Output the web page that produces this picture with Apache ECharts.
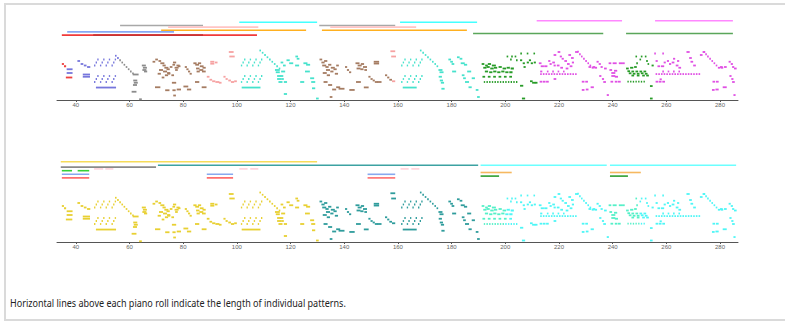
<!DOCTYPE html>
<html>
<head>
<meta charset="utf-8">
<script src="https://cdn.jsdelivr.net/npm/echarts@6/dist/echarts.min.js"></script>
<style>
  html, body { margin: 0; padding: 0; background: #fff; overflow: hidden; width: 785px; height: 321px; }
  #frame { position: absolute; left: 4px; top: 3px; width: 779px; height: 314px; border: 2px solid #dadada; border-right: none; }
  #chart { position: absolute; left: 0; top: 0; width: 785px; height: 321px; }
  #caption { position: absolute; left: 10px; top: 295px; font-family: 'Noto Sans', sans-serif; font-size: 11.5px; color: #222; white-space: nowrap; transform: scaleX(0.785); transform-origin: 0 0; }
</style>
</head>
<body>
<div id="frame"></div>
<div id="chart"></div>
<div id="caption">Horizontal lines above each piano roll indicate the length of individual patterns.</div>
<script>
// x axis (time) tick labels
const xTicks = [40, 60, 80, 100, 120, 140, 160, 180, 200, 220, 240, 260, 280];
const timeRange = [33, 286.7];
const pitchRange = [50, 84];

// notes: [onset, pitch, duration]
const passage1 = [
  [34.8,74,0.8],[35.6,72.5,0.8],[36.6,70.5,2.2],[36.6,68,2.2],[36.3,65,2.4],
  [40.6,76,1],[41.8,74,1],[43,73,1],[44.2,72,1.2],[42.6,67,2.7],[42.6,65.5,2.7],
  [46.8,73,0.5],[47.4,75,0.5],[48,77,0.5],[49,73,0.5],[49.6,75,0.5],[50.2,77,0.5],
  [51.1,73,0.5],[51.7,75,0.5],[52.3,77,0.5],[53.3,73,0.5],[53.9,75,0.5],[54.5,77,0.5],
  [46.8,62,0.5],[47.4,64,0.5],[48,66,0.5],[49,62,0.5],[49.6,64,0.5],[50.2,66,0.5],
  [51.1,62,0.5],[51.7,64,0.5],[52.3,66,0.5],[53.3,62,0.5],[53.9,64,0.5],[54.5,66,0.5],
  [47.5,58.3,7.5],
  [54.6,79.5,0.6],[55.4,78,0.6],[56.2,76.5,0.6],[57,75,0.6],[57.8,73.5,0.6],[58.6,72,0.6],
  [59.4,70.5,0.6],[60.2,69,0.6],[61,67.8,0.6],
  [61.2,67,2.2],[61.4,63,1.5],[61.6,61.5,1.5],[61.3,60,1.5],[60.8,55.5,1.8],[63.6,50.5,1],
  [64.6,73,1.5],[65,71.5,1.5],[64.8,70,1.5],[65.4,69,1.2]
];
const passage2 = [
  [68.6,75.5,1],[69.6,77,1],[70.8,76,1],[71.5,74.5,1.5],[72.3,73,1.2],[73,71.5,1.5],[71,70,1.5],
  [72.5,69,1.5],[73.8,70.5,1.2],[74,68,1.2],[73.2,66.5,1.2],[75,72,1],[76,73.5,1],
  [70.5,67.5,1.2],[72,65,1],
  [76.2,75,1.2],[77.5,73,1.2],[76.8,71.5,1.5],[78,72.5,1],[77,70,1],[74.2,67.5,1],[75.6,66.5,1],
  [69.5,58.5,2],[73.3,56.5,1.6],[75.8,61.5,1.6],[76,56.5,1.2],[76.3,53,1],[77.6,57,1.6],
  [80.1,59,1.8],[81.4,57,1.6],[84.4,62,1.6],[86.9,58.5,1.8],
  [80.6,72,0.8],[81.2,70.5,0.8],[81.8,69,0.8],[82.4,67.5,0.8],
  [83.8,74.5,1.2],[84.5,73.5,1.4],[85.5,74.5,1.2],[86.2,72.5,1.4],[84.8,71,1.3],[86,70,1.5],
  [87.2,71.5,1.2],[85,69,1.2],[87,69,1.4],
  [90.1,75.5,1.5],[90.1,74.2,1.5],[91.8,75,1],
  [88.8,65.5,1],[89.8,63.5,1],[90.8,62.5,1.2],[92,62,1.5],[93.3,61.5,1],
  [95,65.5,0.8],[95.8,64,0.8],[96.8,63,1],[97.8,62,1.2],[99,62.5,1],
  [97,82,1.8],[97.2,79,2]
];
const passage3 = [
  [101.5,73,0.5],[102.1,75,0.5],[102.7,77,0.5],[103.6,73,0.5],[104.2,75,0.5],[104.8,77,0.5],
  [105.7,73,0.5],[106.3,75,0.5],[106.9,77,0.5],[107.8,73,0.5],[108.4,75,0.5],[109,77,0.5],
  [101.5,62,0.5],[102.1,64,0.5],[102.7,66,0.5],[103.6,62,0.5],[104.2,64,0.5],[104.8,66,0.5],
  [105.7,62,0.5],[106.3,64,0.5],[106.9,66,0.5],[107.8,62,0.5],[108.4,64,0.5],[109,66,0.5],
  [101.8,58.3,7],
  [108.4,83,0.6],[109.3,81.5,0.6],[110.2,80,0.6],[111.1,78.5,0.6],[112,77,0.6],[112.9,75.5,0.6],
  [113.8,74,0.6],[114.7,72.5,0.6],[115.6,71,0.6],
  [114.2,70,1.8],[114.5,68.5,1.5],[115,66,1.5],[115,64,1.5],[115.5,62,1.5],
  [116.3,75,1],[117.2,73,1],[116.5,69,1.5],[116.3,66,1],[116.5,64,1],[117.5,62,1.2],[117.5,54,1.2],
  [118.5,76.5,1.2],[119.5,74.5,1.5],[121.8,79,1],[122.3,77.5,1],[121.7,73,1.5],[124.8,74.5,1.5],
  [125.8,73.5,1.5],[125.4,69,1.8],[123.6,62,1.5],[127.3,64.5,1.5],[127.7,62,1.5],[128,57.8,1.2],[129.5,51,1]
];
const passage4 = [
  [130.8,77,1],[131.5,75,1.2],[132.5,76,1.2],[131.8,73,1.5],[133,72,1.2],[134,73.5,1.2],[135,71.5,1.5],
  [133.2,70,1.5],[134.8,69,1.2],[136,70.5,1.2],[137,73,1],[132,68,1.5],[133.5,66.5,1.2],[136.5,67.5,1.2],
  [132.3,62,1.5],[134,60,1.5],[135.5,57,1.5],[137,58.5,1.5],[134.6,52,1],[137.9,57.5,2.2],
  [140.3,72,0.8],[141,70,0.8],[141.8,68.5,0.8],[141.9,56.7,2],
  [144.2,74.5,1.5],[145,73,1.5],[146.2,74,1.2],[147,72,1.5],[144.6,71,1.5],[146,70.5,1.2],[147.5,70,1],
  [144.4,62,1.8],[147.3,58.4,1.8],
  [149,65.5,0.8],[149.8,64,0.8],[150.6,63,0.8],[151.4,62,1.2],[152.4,62,1.5],
  [151,75.5,2],[151,74.3,2],
  [155.2,66.5,0.8],[156,65,0.8],[156.8,63.5,1],[157.8,62.5,1.2],
  [157.2,82.5,1.8],[157.5,79,1.8]
];
const passage5 = [
  [161.2,73,0.5],[161.8,75,0.5],[162.4,77,0.5],[163.3,73,0.5],[163.9,75,0.5],[164.5,77,0.5],
  [165.4,73,0.5],[166,75,0.5],[166.6,77,0.5],[167.5,73,0.5],[168.1,75,0.5],[168.7,77,0.5],
  [161.2,62,0.5],[161.8,64,0.5],[162.4,66,0.5],[163.3,62,0.5],[163.9,64,0.5],[164.5,66,0.5],
  [165.4,62,0.5],[166,64,0.5],[166.6,66,0.5],[167.5,62,0.5],[168.1,64,0.5],[168.7,66,0.5],
  [161.8,58.3,5.2],
  [168.2,83,0.6],[169.1,81.5,0.6],[170,80,0.6],[170.9,78.5,0.6],[171.8,77,0.6],[172.7,75.5,0.6],
  [173.6,74,0.6],[174.4,72.5,0.6],
  [175.1,70,1.5],[175.5,68.5,1.5],[175.2,65.5,1.2],[175.6,63,1.2],[176,61.5,1.2],[176.2,57.5,1.2],
  [178.8,77,1],[179.5,75.5,1],[180,74,1],[182,78.5,1],[183,77.5,1],[180.2,69,1.5],[183.4,74.5,1.5],
  [184.6,73.5,1.2],[185.8,69,1.5],[185,62,1.5],[187.5,64.5,1.2],[186.3,58.5,1.2],[189,56.7,1],
  [189.5,52,1],[183.8,66.5,1],[184.3,64.5,1]
];
const passage6 = [
  [191.2,74,1],[192.5,73,1],[193.5,74,1.2],[195,73,1.5],
  [191.8,71.5,1.2],[193,72,1.2],[194.4,71,1.3],[195.8,71.5,1.2],[197.5,72,1.2],[199,71,1.3],[200.5,71.5,1.2],[202,71,1.2],
  [192.4,69,1.2],[194,68.5,1.2],[195.5,69,1.2],[197,68.5,1.2],[198.5,69,1.2],[200,68.5,1.2],[201.5,68.5,1.2],
  [191.5,65.5,1],[193.5,65.5,1],[195.5,65.5,1],[197.5,65.5,1],[199.5,65.5,1],[201.5,65.5,1],
  [192,62,0.5],[193,62,0.5],[194,62,0.5],[195,62,0.5],[196,62,0.5],[197,62,0.5],[198,62,0.5],
  [199,62,0.5],[200,62,0.5],[201,62,0.5],[202,62,0.5],[203,62,0.5],[204,62,0.5],
  [200.5,79,0.6],[202.2,79,0.6],[203.5,79,0.6],[201.8,77,0.6],[204,76.5,0.6],
  [205.5,76.5,0.8],[206.5,74.5,0.8],[208,75,0.8],[206.2,51,1.2],
  [205.6,81,0.6],[206.8,72,0.8],[205.5,59.5,1.2],[208,81,0.6],[210.5,81,0.6],[208.8,76.5,0.8],
  [209.5,74.5,0.8],[210.6,75,0.8],[209.2,62.5,1],[210,61.5,1.2],[211,61.5,1]
];
const passage7 = [
  [212.5,74.5,1],[213.2,72.5,1.2],[214.5,72.5,1.2],[213,69,0.8],
  [213,67.3,0.6],[214,67.3,0.6],[215,67.3,0.6],[216,67.3,0.6],[217,67.3,0.6],[218,67.3,0.6],[219,67.3,0.6],
  [220,67.3,0.6],[221,67.3,0.6],[222,67.3,0.6],[223,67.3,0.6],[224,67.3,0.6],[225,67.3,0.6],[226,67.3,0.6],
  [215.5,69,0.6],[217.5,69,0.6],[219.5,69,0.6],[221.5,69,0.6],
  [212.8,62.2,1],[214,62.2,1],[215.2,62.2,1],
  [216,76,0.8],[216.5,74,0.8],[217.5,75,1],[218,73,0.8],[218,64,1],
  [218,80,1],[219.5,82,1],[220.3,79,0.8],[219.2,73,1],[220.5,71.5,1],
  [221,77.5,0.8],[222,76,1],[223,74,1],[224,72.5,1],[222.5,71,1],[224.8,75,0.8],
  [223.5,80,1],[224.5,78,1],[226,82,1.2],
  [226.8,82.2,0.6],[227.5,80.5,0.6],[228.2,79,0.6],[229,77.5,0.6],[229.8,76,0.6],[230.6,74.5,0.6],
  [231.4,73,0.6],[232.2,71.5,0.8],[233.2,71.5,1],
  [228.5,62.2,1],[229.8,62.2,1],[228.5,56.7,1],[230,57,1],[231,72,1],[232.5,72,1],[231.8,58.5,1.2],
  [234,75.5,0.8],[234.8,74,0.8],[235.5,72,0.8],[235,66,0.8],[236,64,0.8],[236.5,62,1],[236.8,71,1],[237.8,53.3,0.8],
  [238.5,74.5,1],[240,74.5,1.5],[238.8,70,1],[239.5,68,1.5],[240.5,69.5,1.2],[239.5,66,1.5],[240.8,65.5,1.2],
  [239.2,62.2,1],[240.8,62.2,1],[242,62.2,1],[242.3,74.5,1.2],[243.5,74.5,1]
];
const passage8 = [
  [245,71,1],[246.5,71.5,1.2],[248,72,1],
  [245.5,69.2,1],[247,69,1],[248.5,69,1],[250,69,1],[251.5,69,1],
  [246,67.8,1],[247.5,67.5,1],[249,67.5,1],[250.5,67.8,1],[252,67.5,1],
  [247,66.3,1],[249,66.3,1],[251,66.3,1],[252.5,66.3,1],
  [245.5,62.2,0.5],[246.5,62.2,0.5],[247.5,62.2,0.5],[248.5,62.2,0.5],[249.5,62.2,0.5],[250.5,62.2,0.5],[251.5,62.2,0.5],
  [248.5,79,0.6],[250.5,79,0.6],[252,79,0.6],[250,77,0.6],[252.5,76,0.6],[248.8,74.5,0.6],[253,74,0.6],
  [253.9,59.3,1],[253.9,51,1],[254.5,73,0.8]
];
const passage9 = [
  [255.5,81,0.6],[256,76,0.8],[256.7,72.5,1],[258.5,81,0.6],[259,75,0.8],[258,72.5,1.2],
  [256,67.3,0.6],[257,67.3,0.6],[258,67.3,0.6],[259,67.3,0.6],[260,67.3,0.6],[261,67.3,0.6],
  [262,67.3,0.6],[263,67.3,0.6],[264,67.3,0.6],[265,67.3,0.6],[266,67.3,0.6],[267,67.3,0.6],
  [268,67.3,0.6],[269,67.3,0.6],[270,67.3,0.6],[271,67.3,0.6],[272,67.3,0.6],
  [258.5,69,0.6],[260.5,69,0.6],[262.5,69,0.6],[264.5,69,0.6],
  [256,62.2,1],[257.2,62.2,1],[258.5,62.2,1],[257.5,63.8,0.8],
  [260.2,76,0.8],[261,74,0.8],[262,75,1],
  [262.5,77.5,0.8],[263.5,73,1],[264.5,71.5,1],[264,76,0.8],
  [267.5,82,1.2],[268.5,78,1],[269,75.5,1],[270,73,1],
  [272.5,80,1],[273.5,82,1],
  [273.8,82,0.6],[274.5,80.5,0.6],[275.2,79,0.6],[276,77.5,0.6],[276.8,76,0.6],[277.6,74.5,0.6],
  [278.4,73,0.6],[279.2,71.5,0.8],[280.2,71.5,1],
  [277,56.7,1],[278.3,57,1.2],[277.2,62.2,1],[278.5,62.2,1],
  [280,72,1],[281.5,72,1],[281,58.5,1.5],
  [283.2,75.5,0.8],[284,74,0.8],[284.5,72,0.8],[283.5,66,0.8],[284.2,64,0.8],[284.5,62,1],[285.2,71,1],[285,53.3,0.8]
];

// which pattern each stretch of time belongs to: [from time, pattern id]
const upperSections = [
  [33,'red'],[36.5,'slate'],[56,'gray'],[67.5,'brown'],[88.5,'salmon'],[100.5,'turquoise'],
  [130.3,'brown'],[157,'salmon'],[160.5,'turquoise'],[190,'green'],[211.8,'magenta'],
  [244.3,'green'],[255.2,'magenta']
];
const lowerSections = [
  [33,'gold'],[130.3,'teal'],[190,'mint'],[200,'cyan'],[238.5,'mint'],[250,'cyan']
];

// pattern spans: [start, end, lane, pattern id]
const upperPatterns = [
  [211.7,243.5,0,'magenta'],[255.8,284.8,0,'magenta'],
  [100.9,129.9,1,'cyan'],[160.8,189.5,1,'cyan'],
  [56.5,87.4,3,'gray'],[130.7,159,3,'gray'],
  [74.4,108,4,'pink'],[134.8,166.8,4,'pink'],
  [71.8,125.8,6,'orange'],[131.7,185.7,6,'orange'],
  [36.8,76.6,7,'blue'],
  [188,236.5,8,'green'],[245,284.8,8,'green'],
  [34.8,107.5,9,'red'],[46.5,87.4,9,'darkred']
];
const lowerPatterns = [
  [34.4,129.9,0,'gold'],
  [70.6,189.9,2,'teal'],[190.8,237.8,2,'cyan'],[239,286,2,'cyan'],
  [34.4,69.9,3,'gray'],
  [46.8,50.2,4,'pink'],[51,54,4,'pink'],[100.9,104,4,'pink'],[105,108,4,'pink'],[161,164,4,'pink'],[165,168,4,'pink'],
  [34.8,38.6,5,'lime'],[40.7,45,5,'lime'],
  [190.8,202.4,6,'orange'],[239,250.5,6,'orange'],
  [34.8,45,7,'blue'],[88.8,98.6,7,'blue'],[148.7,159,7,'blue'],
  [190.8,197.7,8,'green'],[239,245.7,8,'green'],
  [34.8,45,9,'red'],[88.8,98.6,9,'red'],[148.7,159,9,'red']
];

const noteColors = {
  red: '#ee4040', slate: '#7676dc', gray: '#8c8c8c', brown: '#a57c62', salmon: '#f6a2a2',
  turquoise: '#46e2cc', green: '#279b27', magenta: '#e050e4',
  gold: '#e8d032', teal: '#2f9c9c', mint: '#55f0c8', cyan: '#4ef6f6'
};
const laneColors = {
  upper: {
    magenta: '#ff88ff', cyan: '#44ffff', gray: '#a8a8a8', pink: '#ffc4c4', orange: '#ffb020',
    blue: '#86a8f4', green: '#5aa65a', red: '#f03a3a', darkred: '#c83232'
  },
  lower: {
    gold: '#f6dc5a', teal: '#3ca2a2', cyan: '#6cffff', gray: '#8a8a8a', pink: '#ffd2da',
    lime: '#36d036', orange: '#f6b860', blue: '#88a8ee', green: '#2f9f2f', red: '#ff6e6e'
  }
};

const notes = [].concat(passage1, passage2, passage3, passage4, passage5, passage6, passage7, passage8, passage9);

function sectionAt(sections, t) {
  let id = sections[0][1];
  for (const s of sections) if (t >= s[0]) id = s[1];
  return id;
}

function noteSeries(axisIndex, sections) {
  return {
    type: 'custom', xAxisIndex: axisIndex, yAxisIndex: axisIndex,
    data: notes, encode: { x: 0, y: 1 }, silent: true, animation: false, clip: false,
    renderItem: function (params, api) {
      const t = api.value(0), p = api.value(1), d = api.value(2);
      const a = api.coord([t, p]);
      const b = api.coord([t + d, p]);
      return {
        type: 'rect',
        shape: { x: a[0], y: a[1] - 0.9, width: Math.max(b[0] - a[0], 1.2), height: 1.8 },
        style: { fill: noteColors[sectionAt(sections, t)] }
      };
    }
  };
}

function laneSeries(axisIndex, spans, colors) {
  return {
    type: 'custom', xAxisIndex: axisIndex, yAxisIndex: axisIndex,
    data: spans.map(s => [s[0], s[1], s[2]]), encode: { x: [0, 1], y: 2 },
    silent: true, animation: false, clip: false,
    renderItem: function (params, api) {
      const a = api.coord([api.value(0), api.value(2)]);
      const b = api.coord([api.value(1), api.value(2)]);
      return {
        type: 'rect',
        shape: { x: a[0], y: a[1] - 0.8, width: b[0] - a[0], height: 1.6 },
        style: { fill: colors[spans[params.dataIndex][3]] }
      };
    }
  };
}

const grids = [
  { left: 57, right: 47, top: 19.9, height: 16 },
  { left: 57, right: 47, top: 49, height: 51 },
  { left: 57, right: 47, top: 160.8, height: 18 },
  { left: 57, right: 47, top: 191, height: 51 }
];

function timeAxis(i, visible) {
  return {
    type: 'value', gridIndex: i, min: timeRange[0], max: timeRange[1], show: visible,
    splitLine: { show: false },
    axisLine: { show: visible, onZero: false, lineStyle: { color: '#555', width: 1 } },
    axisTick: { show: visible, length: 2, customValues: xTicks, lineStyle: { color: '#555' } },
    axisLabel: { show: visible, customValues: xTicks, fontSize: 6, color: '#666', margin: 2, fontFamily: 'Liberation Sans' }
  };
}

const chart = echarts.init(document.getElementById('chart'), null, { renderer: 'svg' });
chart.setOption({
  animation: false,
  grid: grids,
  xAxis: [timeAxis(0, false), timeAxis(1, true), timeAxis(2, false), timeAxis(3, true)],
  yAxis: [
    { type: 'value', gridIndex: 0, min: -0.5, max: 9.5, inverse: true, show: false },
    { type: 'value', gridIndex: 1, min: pitchRange[0], max: pitchRange[1], show: false },
    { type: 'value', gridIndex: 2, min: -0.5, max: 9.5, inverse: true, show: false },
    { type: 'value', gridIndex: 3, min: pitchRange[0], max: pitchRange[1], show: false }
  ],
  series: [
    laneSeries(0, upperPatterns, laneColors.upper),
    noteSeries(1, upperSections),
    laneSeries(2, lowerPatterns, laneColors.lower),
    noteSeries(3, lowerSections)
  ]
});
</script>
</body>
</html>
